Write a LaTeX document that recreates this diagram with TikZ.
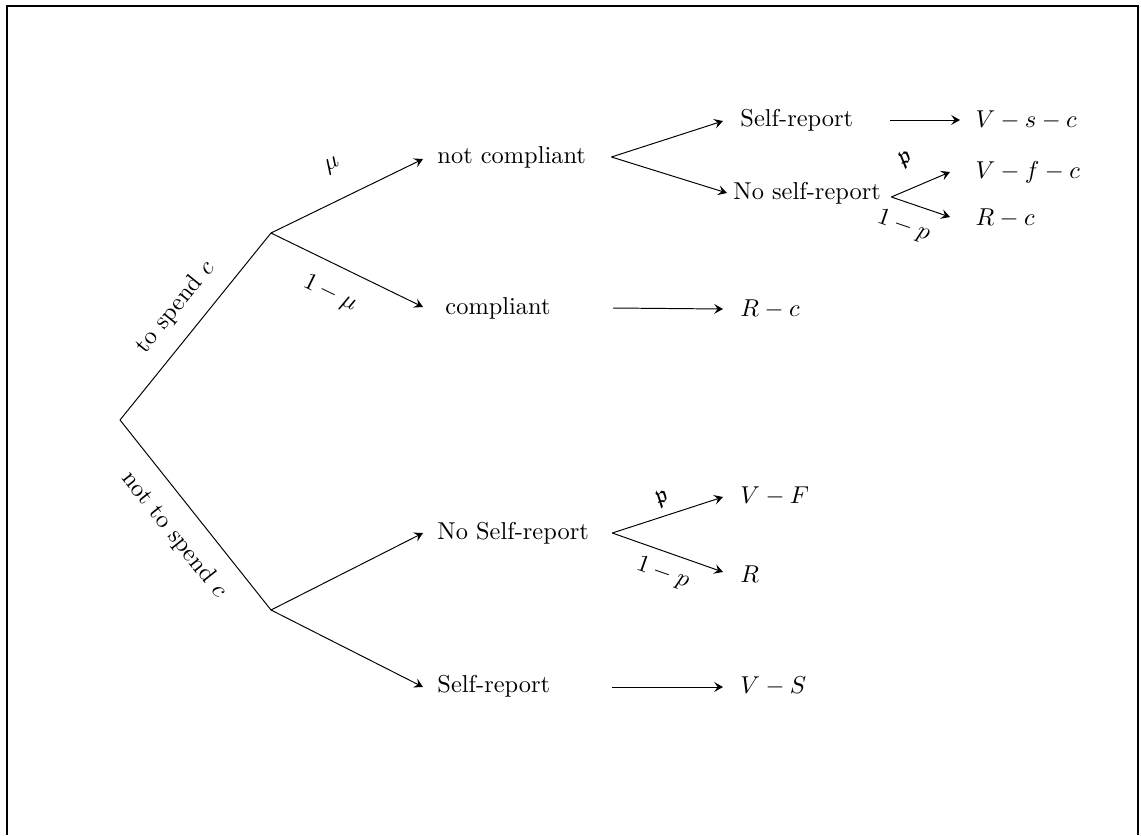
\documentclass[tikz,border=0pt]{standalone}
\usepackage{amssymb}
\usetikzlibrary{calc,arrows.meta}
\begin{document}
\begin{tikzpicture}[x=0.4098pt,y=-0.4098pt,
  txt/.style={inner sep=0pt, anchor=west},
  arr/.style={-{Stealth[length=3.6pt,width=4pt,inset=1.4pt]}},
  br/.style={sloped, inner sep=3.33pt}]
\useasboundingbox (0,0) rectangle (1141,835);
% open frame
\draw[line width=0.5pt] (7,835) -- (7,6) -- (1138,6) -- (1138,835);

% branching points
\coordinate (root) at (120,420);
\coordinate (A) at (271,233);
\coordinate (B) at (271,610);

% upper subtree
\node[txt] (nc)   at (437,157) {not compliant};
\node[txt] (co)   at (445,308) {compliant};
\node[txt] (sr1)  at (740,120) {Self-report};
\node[txt] (nsr1) at (733,193) {No self-report};
\node[txt] (o1)   at (975,120) {$V-s-c$};
\node[txt] (o2)   at (975,172) {$V-f-c$};
\node[txt] (o3)   at (975,218) {$R-c$};
\node[txt] (o4)   at (740,309) {$R-c$};

% lower subtree
\node[txt] (nsr2) at (437,533) {No Self-report};
\node[txt] (sr2)  at (437,686) {Self-report};
\node[txt] (o5)   at (740,496) {$V-F$};
\node[txt] (o6)   at (740,574) {$R$};
\node[txt] (o7)   at (740,686) {$V-S$};

% first decision
\draw (root) -- node[br, above=3.3pt, pos=0.51] {to spend $c$} (A);
\draw (root) -- node[br, below=4pt, pos=0.51] {not to spend $c$} (B);

% spending branch
\draw[arr] (A) -- node[br, above=7pt, pos=0.5] {$\mu$} ($(nc.west)+(-14,2)$);
\draw[arr] (A) -- node[br, below=4pt, pos=0.47] {$1-\mu$} ($(co.west)+(-22,-1)$);
\draw[arr] ($(nc.east)+(25,0)$) -- ($(sr1.west)+(-17,1)$);
\draw[arr] ($(nc.east)+(25,0)$) -- ($(nsr1.west)+(-6,0)$);
\draw[arr] ($(sr1.east)+(36,0)$) -- ($(o1.west)+(-15,0)$);
\draw[arr] ($(nsr1.east)+(10,4)$) -- node[br, above=5pt, pos=0.44] {$\mathfrak{p}$} ($(o2.west)+(-25,0)$);
\draw[arr] ($(nsr1.east)+(10,4)$) -- node[br, below=2pt, pos=0.34] {$1-p$} ($(o3.west)+(-25,-1)$);
\draw[arr] ($(co.east)+(62,0)$) -- ($(o4.west)+(-17,0)$);

% non-spending branch
\draw[arr] (B) -- ($(nsr2.west)+(-14,0)$);
\draw[arr] (B) -- ($(sr2.west)+(-14,1)$);
\draw[arr] ($(nsr2.east)+(23,0)$) -- node[br, above, pos=0.5] {$\mathfrak{p}$} ($(o5.west)+(-17,1)$);
\draw[arr] ($(nsr2.east)+(23,0)$) -- node[br, below=1pt, pos=0.52] {$1-p$} ($(o6.west)+(-17,-2)$);
\draw[arr] ($(sr2.east)+(61,1)$) -- ($(o7.west)+(-17,1)$);
\end{tikzpicture}
\end{document}
